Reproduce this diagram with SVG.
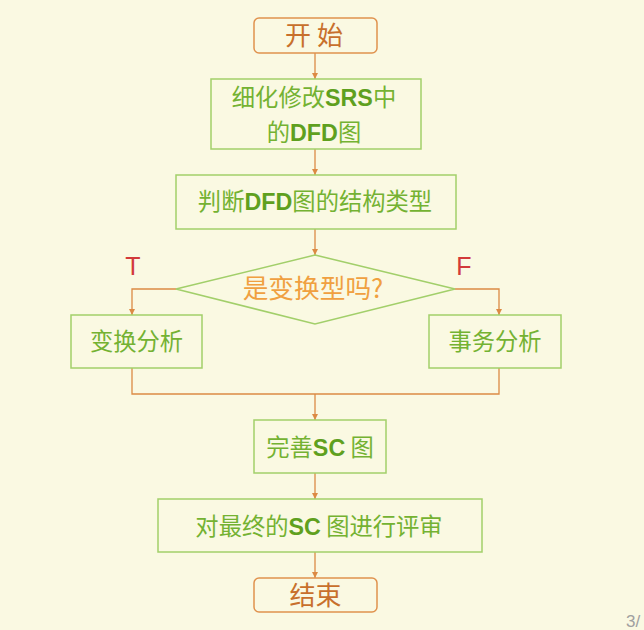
<svg xmlns="http://www.w3.org/2000/svg" width="644" height="630" viewBox="0 0 644 630">
<style>
.bg{fill:#FAF9E2}
.term{fill:none;stroke:#E0924E;stroke-width:1.5}
.proc{fill:none;stroke:#A2CF6A;stroke-width:1.5}
.conn{fill:none;stroke:#DC8A44;stroke-width:1.3}
.tt{font-family:"Noto Sans CJK SC","Liberation Sans",sans-serif;font-size:26px;fill:#C8702C;text-anchor:middle}
.gt{font-family:"Noto Sans CJK SC","Liberation Sans",sans-serif;font-size:23.3px;fill:#74B232;text-anchor:middle}
.b{font-family:"Liberation Sans",sans-serif;font-weight:bold;fill:#5FA01E}
.dt{font-family:"Noto Sans CJK SC","Liberation Sans",sans-serif;font-size:25.7px;fill:#F0A040;text-anchor:middle}
.lbl{font-family:"Liberation Sans",sans-serif;font-size:25px;fill:#D23A3A;text-anchor:middle}
</style>
<defs>
<marker id="ah" viewBox="0 0 6 6" refX="6" refY="3" markerWidth="6" markerHeight="6" markerUnits="userSpaceOnUse" orient="auto">
<path d="M0,0 L6,3 L0,6 z" fill="#DC8A44"/>
</marker>
</defs>
<rect class="bg" x="0" y="0" width="644" height="630"/>
<g id="connectors">
<line class="conn" x1="315" y1="53" x2="315" y2="79" marker-end="url(#ah)"/>
<line class="conn" x1="315" y1="149" x2="315" y2="175" marker-end="url(#ah)"/>
<line class="conn" x1="315" y1="229" x2="315" y2="255" marker-end="url(#ah)"/>
<polyline class="conn" points="176,289 132,289 132,315" marker-end="url(#ah)"/>
<polyline class="conn" points="455,289 499,289 499,315" marker-end="url(#ah)"/>
<polyline class="conn" points="132,368 132,394 499,394 499,368"/>
<line class="conn" x1="315" y1="394" x2="315" y2="420" marker-end="url(#ah)"/>
<line class="conn" x1="315" y1="473" x2="315" y2="499" marker-end="url(#ah)"/>
<line class="conn" x1="315" y1="552" x2="315" y2="578" marker-end="url(#ah)"/>
<text class="lbl" x="133" y="275">T</text>
<text class="lbl" x="464" y="275">F</text>
</g>
<g id="start">
<rect class="term" x="254" y="18" width="123" height="35" rx="5"/>
<text class="tt" x="314" y="45">开 始</text>
</g>
<g id="refine">
<rect class="proc" x="211" y="79" width="210" height="70"/>
<text class="gt" x="314" y="106">细化修改<tspan class="b">SRS</tspan>中</text>
<text class="gt" x="314" y="141">的<tspan class="b">DFD</tspan>图</text>
</g>
<g id="judge">
<rect class="proc" x="176" y="175" width="280" height="54"/>
<text class="gt" x="315" y="210">判断<tspan class="b">DFD</tspan>图的结构类型</text>
</g>
<g id="decision">
<polygon class="proc" points="315,255 455,289 315,324 176,289"/>
<text class="dt" x="313" y="298">是变换型吗?</text>
</g>
<g id="transform">
<rect class="proc" x="71" y="315" width="131" height="53"/>
<text class="gt" x="136.5" y="350">变换分析</text>
</g>
<g id="transaction">
<rect class="proc" x="429" y="315" width="132" height="53"/>
<text class="gt" x="495" y="350">事务分析</text>
</g>
<g id="improve">
<rect class="proc" x="254" y="420" width="132" height="53"/>
<text class="gt" x="320" y="456">完善<tspan class="b">SC</tspan> 图</text>
</g>
<g id="review">
<rect class="proc" x="158" y="499" width="324" height="53"/>
<text class="gt" x="319" y="535">对最终的<tspan class="b">SC</tspan> 图进行评审</text>
</g>
<g id="end">
<rect class="term" x="254" y="578" width="123" height="34" rx="5"/>
<text class="tt" x="315.5" y="605">结束</text>
</g>
<text x="626" y="627" font-family="Liberation Sans, sans-serif" font-size="17" fill="#A0A0A0">3/</text>
</svg>
